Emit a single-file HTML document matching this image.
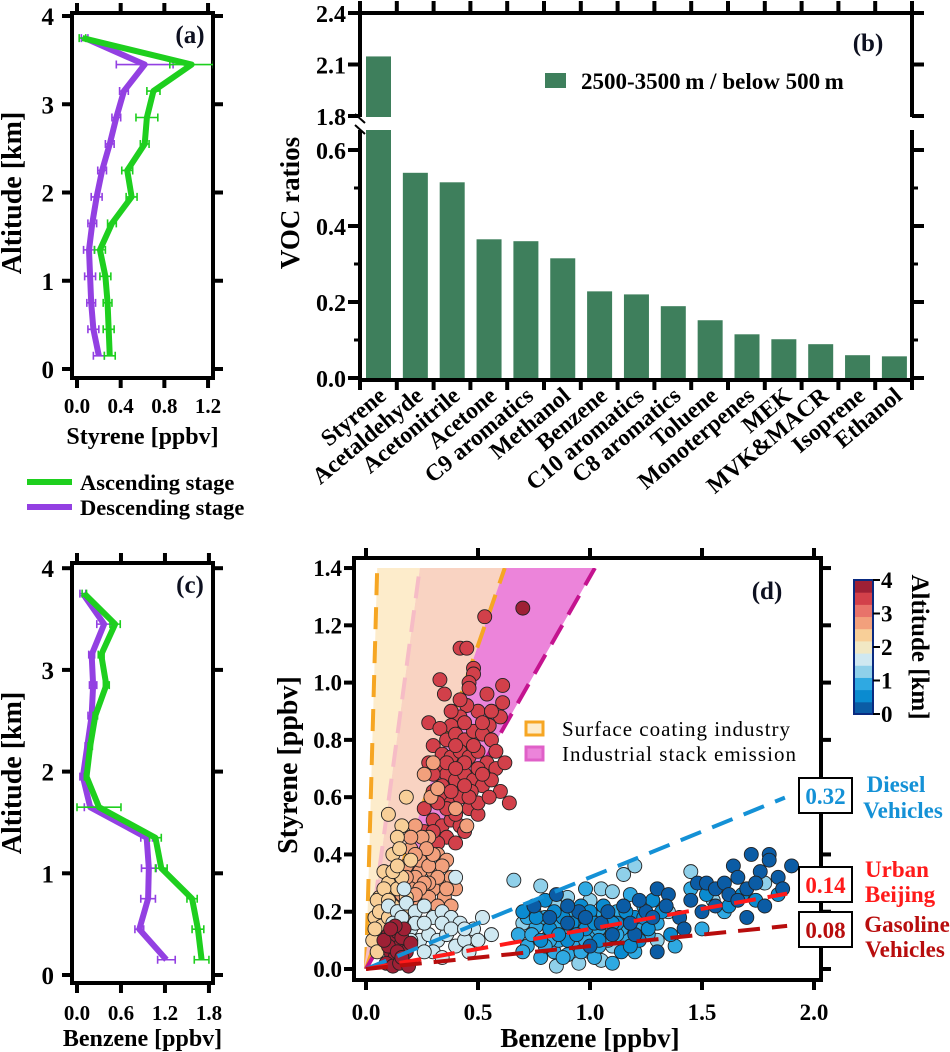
<!DOCTYPE html>
<html><head><meta charset="utf-8">
<style>
html,body{margin:0;padding:0;background:#fff;}
svg{display:block;font-family:"Liberation Serif",serif;font-weight:bold;}
</style></head>
<body>
<svg id="fig" width="950" height="1052" viewBox="0 0 950 1052" xmlns="http://www.w3.org/2000/svg"></svg>
<script>
// ---------- data ----------
const altitudes=[0.15,0.45,0.75,1.05,1.35,1.65,1.95,2.25,2.55,2.85,3.15,3.45,3.75];
const styAsc=[0.30,0.29,0.28,0.26,0.21,0.32,0.50,0.46,0.62,0.64,0.70,1.05,0.05];
const styAscErr=[0.05,0.05,0.04,0.05,0.05,0.04,0.05,0.05,0.04,0.10,0.06,0.20,0.03];
const styDes=[0.20,0.15,0.13,0.12,0.11,0.14,0.18,0.23,0.30,0.36,0.43,0.62,0.07];
const styDesErr=[0.05,0.05,0.04,0.05,0.05,0.04,0.05,0.04,0.04,0.04,0.04,0.26,0.03];
const benAsc=[1.70,1.65,1.57,1.15,1.07,0.30,0.13,0.18,0.25,0.40,0.33,0.52,0.10];
const benAscErr=[0.10,0.08,0.07,0.08,0.08,0.30,0.03,0.03,0.03,0.04,0.04,0.07,0.03];
const benDes=[1.22,0.85,0.97,0.98,0.95,0.18,0.08,0.14,0.20,0.22,0.20,0.37,0.08];
const benDesErr=[0.12,0.06,0.10,0.10,0.08,0.08,0.04,0.03,0.05,0.05,0.04,0.10,0.04];
const altTicks=[0,1,2,3,4];
const styTicks=[0,0.4,0.8,1.2];
const benTicksC=[0,0.6,1.2,1.8];

const vocNames=["Styrene","Acetaldehyde","Acetonitrile","Acetone","C9 aromatics","Methanol","Benzene","C10 aromatics","C8 aromatics","Toluene","Monoterpenes","MEK","MVK&MACR","Isoprene","Ethanol"];
const vocRatios=[2.147,0.54,0.515,0.365,0.36,0.315,0.228,0.22,0.189,0.152,0.115,0.102,0.089,0.06,0.057];
const ratioTicksLow=[0,0.2,0.4,0.6];
const ratioTicksHigh=[1.8,2.1,2.4];

const dBenzTicks=[0,0.5,1.0,1.5,2.0];
const dStyTicks=[0,0.2,0.4,0.6,0.8,1.0,1.2,1.4];
const ratioLines=[0.32,0.14,0.08];
const cbTicks=[0,1,2,3,4];
const pointsBSA=[
[0.33,1.01,3.3],[0.35,0.96,3.3],[0.42,1.12,3.3],[0.45,1.12,3.3],[0.48,1.05,3.3],[0.48,1.03,3.3],[0.53,1.23,3.3],[0.70,1.26,3.9],[0.54,0.96,3.3],[0.46,1.0,3.3],[0.46,0.98,3.3],[0.61,0.99,3.3],[0.61,0.93,3.3],[0.60,0.88,3.3],[0.55,0.85,3.3],[0.50,0.90,3.3],[0.45,0.92,3.3],[0.42,0.88,3.3],[0.38,0.85,3.3],[0.28,0.86,3.3],[0.33,0.84,3.3],[0.36,0.80,3.3],[0.40,0.82,3.3],[0.44,0.80,3.3],[0.48,0.83,3.3],[0.52,0.82,3.3],[0.56,0.80,3.3],[0.30,0.78,3.3],[0.34,0.75,3.3],[0.38,0.74,3.3],[0.42,0.76,3.3],[0.46,0.74,3.3],[0.50,0.76,3.3],[0.54,0.72,3.3],[0.58,0.70,3.3],[0.32,0.70,3.3],[0.36,0.68,3.3],[0.40,0.66,3.3],[0.44,0.68,3.3],[0.48,0.66,3.3],[0.52,0.64,3.3],[0.56,0.66,3.3],[0.60,0.62,3.3],[0.64,0.58,3.3],[0.30,0.62,3.3],[0.34,0.60,3.3],[0.38,0.58,3.3],[0.42,0.60,3.3],[0.46,0.56,3.3],[0.50,0.54,3.3],[0.26,0.56,3.3],[0.30,0.52,3.3],[0.34,0.50,3.3],[0.38,0.52,3.3],[0.42,0.50,3.3],[0.44,0.48,3.3],[0.36,0.46,3.3],[0.40,0.44,3.3],[0.32,0.44,3.3],[0.50,0.58,3.3],[0.55,0.60,3.3],[0.47,0.62,3.3],
[0.38,0.90,3.3],[0.42,0.94,3.3],[0.44,0.86,3.3],[0.40,0.78,3.3],[0.36,0.72,3.3],[0.44,0.72,3.3],[0.50,0.70,3.3],[0.40,0.70,3.3],[0.34,0.64,3.3],[0.38,0.62,3.3],[0.46,0.60,3.3],[0.52,0.68,3.3],[0.44,0.64,3.3],[0.40,0.54,3.3],[0.36,0.56,3.3],[0.32,0.58,3.3],[0.30,0.68,3.3],[0.28,0.72,3.3],[0.48,0.78,3.3],[0.52,0.86,3.3],[0.56,0.90,3.3],[0.58,0.76,3.3],[0.62,0.72,3.3],[0.26,0.48,3.3],[0.30,0.48,3.3],
[0.28,0.46,2.9],[0.32,0.40,2.9],[0.36,0.38,2.9],[0.30,0.34,2.9],[0.34,0.30,2.9],[0.38,0.32,2.9],[0.26,0.38,2.9],[0.35,0.25,2.9],[0.40,0.28,2.9],[0.30,0.28,2.9],[0.45,0.50,2.9],[0.40,0.56,2.9],[0.36,0.20,2.9],[0.38,0.22,2.9],
[0.34,0.36,2.9],[0.32,0.32,2.9],[0.36,0.28,2.9],[0.28,0.30,2.9],[0.24,0.34,2.9],[0.30,0.22,2.9],[0.33,0.18,2.9],[0.26,0.26,2.9],
[0.22,0.50,2.6],[0.25,0.46,2.6],[0.20,0.42,2.6],[0.24,0.38,2.6],[0.28,0.36,2.6],[0.22,0.32,2.6],[0.26,0.30,2.6],[0.18,0.36,2.6],[0.30,0.40,2.6],[0.20,0.28,2.6],[0.28,0.25,2.6],[0.24,0.22,2.6],[0.32,0.22,2.6],[0.29,0.60,2.6],[0.32,0.63,2.6],[0.26,0.68,2.6],[0.30,0.72,2.6],[0.27,0.42,2.6],
[0.20,0.46,2.6],[0.22,0.40,2.6],[0.18,0.32,2.6],[0.24,0.28,2.6],[0.16,0.26,2.6],[0.22,0.26,2.6],
[0.10,0.54,2.2],[0.18,0.60,2.2],[0.16,0.50,2.2],[0.14,0.46,2.2],[0.12,0.40,2.2],[0.08,0.34,2.2],[0.10,0.30,2.2],[0.06,0.25,2.2],[0.08,0.20,2.2],[0.05,0.24,2.2],[0.14,0.28,2.2],[0.20,0.38,2.2],[0.16,0.32,2.2],[0.04,0.18,2.2],[0.07,0.15,2.2],[0.12,0.22,2.2],[0.03,0.10,2.2],[0.05,0.06,2.2],[0.15,0.42,2.2],[0.18,0.25,2.2],
[0.08,0.28,2.2],[0.12,0.34,2.2],[0.10,0.24,2.2],[0.06,0.20,2.2],[0.14,0.36,2.2],[0.04,0.14,2.2],[0.10,0.18,2.2],[0.18,0.20,2.2],
[0.10,0.22,1.8],[0.14,0.20,1.8],[0.18,0.23,1.8],[0.22,0.20,1.8],[0.26,0.22,1.8],[0.30,0.18,1.8],[0.34,0.20,1.8],[0.38,0.18,1.8],[0.42,0.16,1.8],[0.20,0.14,1.8],[0.24,0.10,1.8],[0.28,0.12,1.8],[0.32,0.10,1.8],[0.36,0.12,1.8],[0.40,0.08,1.8],[0.44,0.10,1.8],[0.48,0.14,1.8],[0.52,0.18,1.8],[0.30,0.06,1.8],[0.34,0.04,1.8],[0.22,0.16,1.8],[0.12,0.16,1.8],[0.40,0.32,1.8],[0.17,0.28,1.8],[0.46,0.06,1.8],[0.56,0.12,1.8],
[0.16,0.18,1.8],[0.26,0.16,1.8],[0.34,0.16,1.8],[0.38,0.14,1.8],[0.44,0.14,1.8],[0.26,0.06,1.8],[0.20,0.10,1.8],[0.50,0.10,1.8],
[0.66,0.31,1.4],[0.78,0.29,1.4],[0.70,0.16,1.4],[0.75,0.20,1.4],[0.85,0.22,1.4],[0.90,0.25,1.4],[1.00,0.24,1.4],[1.05,0.28,1.4],[1.10,0.27,1.4],[1.15,0.33,1.4],[1.20,0.36,1.4],[0.82,0.12,1.4],[0.92,0.10,1.4],[1.00,0.06,1.4],[1.10,0.08,1.4],[1.20,0.14,1.4],[1.30,0.10,1.4],[1.45,0.34,1.4],[1.55,0.24,1.4],[1.35,0.20,1.4],[0.95,0.02,1.4],[0.85,0.01,1.4],[1.05,0.03,1.4],[1.78,0.30,1.4],
[0.68,0.12,1.0],[0.72,0.08,1.0],[0.76,0.15,1.0],[0.80,0.18,1.0],[0.84,0.06,1.0],[0.88,0.14,1.0],[0.92,0.20,1.0],[0.96,0.16,1.0],[1.00,0.12,1.0],[1.04,0.18,1.0],[1.08,0.14,1.0],[1.12,0.20,1.0],[1.16,0.10,1.0],[1.20,0.06,1.0],[1.24,0.22,1.0],[0.78,0.04,1.0],[0.86,0.10,1.0],[0.94,0.08,1.0],[1.02,0.04,1.0],[1.10,0.02,1.0],[1.30,0.16,1.0],[1.38,0.08,1.0],[1.45,0.28,1.0],[1.50,0.14,1.0],[1.60,0.20,1.0],[1.18,0.26,1.0],[0.98,0.28,1.0],[0.90,0.05,1.0],
[0.74,0.12,1.0],[0.82,0.10,1.0],[0.86,0.16,1.0],[0.90,0.20,1.0],[0.94,0.14,1.0],[1.00,0.18,1.0],[1.04,0.14,1.0],[1.08,0.10,1.0],[1.14,0.14,1.0],[1.18,0.18,1.0],[1.22,0.16,1.0],[1.26,0.12,1.0],[0.80,0.08,1.0],[0.88,0.04,1.0],[0.96,0.06,1.0],[1.04,0.08,1.0],[1.12,0.12,1.0],[0.72,0.18,1.0],[0.70,0.06,1.0],[0.98,0.10,1.0],
[0.70,0.20,0.6],[0.80,0.24,0.6],[0.88,0.18,0.6],[0.96,0.22,0.6],[1.04,0.10,0.6],[1.12,0.16,0.6],[1.20,0.18,0.6],[1.28,0.24,0.6],[1.36,0.12,0.6],[0.82,0.14,0.6],[0.90,0.10,0.6],[0.98,0.14,0.6],[1.06,0.22,0.6],[1.14,0.06,0.6],[1.22,0.10,0.6],[1.52,0.26,0.6],[1.62,0.22,0.6],[1.68,0.26,0.6],[1.74,0.24,0.6],[1.84,0.26,0.6],
[0.76,0.18,0.6],[0.84,0.20,0.6],[0.92,0.16,0.6],[1.00,0.20,0.6],[1.08,0.18,0.6],[1.16,0.20,0.6],[1.24,0.18,0.6],[1.32,0.20,0.6],[0.86,0.12,0.6],[0.94,0.12,0.6],[1.02,0.16,0.6],[1.10,0.16,0.6],[1.18,0.08,0.6],[1.26,0.14,0.6],[0.78,0.10,0.6],
[0.75,0.22,0.2],[0.85,0.26,0.2],[0.95,0.20,0.2],[1.05,0.16,0.2],[1.15,0.22,0.2],[1.25,0.20,0.2],[1.30,0.28,0.2],[1.35,0.26,0.2],[1.40,0.18,0.2],[1.42,0.14,0.2],[1.48,0.30,0.2],[1.52,0.30,0.2],[1.56,0.28,0.2],[1.60,0.30,0.2],[1.64,0.36,0.2],[1.66,0.32,0.2],[1.70,0.28,0.2],[1.72,0.40,0.2],[1.76,0.34,0.2],[1.80,0.40,0.2],[1.80,0.38,0.2],[1.84,0.32,0.2],[1.90,0.36,0.2],[1.70,0.18,0.2],[1.50,0.20,0.2],[1.62,0.26,0.2],[1.78,0.22,0.2],[1.45,0.24,0.2],[1.20,0.12,0.2],[1.00,0.08,0.2],[0.90,0.16,0.2],[1.10,0.12,0.2],[1.30,0.06,0.2],
[0.82,0.18,0.2],[0.90,0.22,0.2],[0.98,0.18,0.2],[1.08,0.20,0.2],[1.18,0.16,0.2],[1.28,0.18,0.2],[1.34,0.22,0.2],[1.22,0.24,0.2],[1.56,0.22,0.2],[1.66,0.24,0.2],[1.74,0.30,0.2],[1.86,0.28,0.2],
[0.10,0.12,3.8],[0.12,0.10,3.8],[0.14,0.13,3.8],[0.15,0.08,3.8],[0.11,0.06,3.8],[0.13,0.04,3.8],[0.16,0.11,3.8],[0.18,0.06,3.8],[0.09,0.02,3.8],[0.12,0.01,3.8],[0.15,0.02,3.8],[0.19,0.01,3.8],[0.17,0.14,3.8],[0.10,0.08,3.8],[0.14,0.06,3.8],[0.08,0.10,3.8],[0.20,0.09,3.8],[0.13,0.15,3.8],[0.16,0.04,3.8],[0.11,0.14,3.8]
];
const cmapColors=["#0b5ca5","#0a8bd0","#2fa9e2","#8fd0ea","#cfe8f1","#f1e8c4","#f8cf98","#f2a07c","#e8736a","#d2404a","#9e2035"];

// ---------- helpers ----------
const NS="http://www.w3.org/2000/svg";
const svg=document.getElementById('fig');
function mk(tag,attrs,parent){const e=document.createElementNS(NS,tag);for(const k in attrs)e.setAttribute(k,attrs[k]);(parent||svg).appendChild(e);return e;}
function txt(s,x,y,size,anchor,extra){const t=mk('text',Object.assign({x:x,y:y,'font-size':size,'text-anchor':anchor||'middle'},extra||{}));t.textContent=s;return t;}
const GREEN="#1ecf1e",PURPLE="#9340e2";

// ---------- profile panels ----------
function profile(key,L,R,T,B,xv,ya,xTicks,asc,ascE,des,desE,xTitle,tag,tickLabelY,titleY,yTitleY){
  const fr=mk('rect',{x:L,y:T,width:R-L,height:B-T,fill:'none',stroke:'#000','stroke-width':4});
  
  
  altTicks.forEach(a=>{
    const y=ya(a);
    mk('line',{x1:L-10,x2:L,y1:y,y2:y,stroke:'#000','stroke-width':4});
    mk('line',{x1:R,x2:R+10,y1:y,y2:y,stroke:'#000','stroke-width':4});
    const t=txt(String(a),L-18,y+9,25,'end');
    
    
  });
  xTicks.forEach(v=>{
    const x=xv(v);
    mk('line',{x1:x,x2:x,y1:B,y2:B+10,stroke:'#000','stroke-width':4});
    mk('line',{x1:x,x2:x,y1:T-10,y2:T,stroke:'#000','stroke-width':4});
    const t=txt(v.toFixed(1),x,tickLabelY,21,'middle');
    
    
  });
  const xt=txt(xTitle,(L+R)/2,titleY,24,'middle');
  
  
  const yt=txt('Altitude [km]',0,0,28,'middle',{transform:`translate(21,${yTitleY}) rotate(-90)`});
  
  
  const cp=mk('clipPath',{id:'clip-'+key});
  mk('rect',{x:L,y:T,width:R-L,height:B-T},cp);
  [[des,desE,PURPLE,'descending'],[asc,ascE,GREEN,'ascending']].forEach(([vals,errs,col,nm])=>{
    const g=mk('g',{'clip-path':`url(#clip-${key})`});
    
    
    vals.forEach((v,i)=>{
      const y=ya(altitudes[i]),x1=xv(v-errs[i]),x2=xv(v+errs[i]);
      mk('path',{d:`M${x1},${y}H${x2}M${x1},${y-4}V${y+4}M${x2},${y-4}V${y+4}`,stroke:col,'stroke-width':1.6,fill:'none'},g);
    });
    const pl=mk('polyline',{points:vals.map((v,i)=>xv(v)+','+ya(altitudes[i])).join(' '),fill:'none',stroke:col,'stroke-width':6,'stroke-linejoin':'round'},g);
    
    
  });
  const lab=txt(tag,190,T+30,25,'middle',{fill:'#0d1020'});
  
  
}
profile('panel-a',72,213,13,378,v=>77+v*109.2,a=>369-a*88.25,styTicks,styAsc,styAscErr,styDes,styDesErr,'Styrene [ppbv]','(a)',413,444,193);
profile('panel-c',72,213,563,983,v=>77+v*73.3,a=>975-a*101.7,benTicksC,benAsc,benAscErr,benDes,benDesErr,'Benzene [ppbv]','(c)',1020,1046,773);

// legend for a/c
[[GREEN,'Ascending stage',482,'legend-ascending'],[PURPLE,'Descending stage',507,'legend-descending']].forEach(([c,s,y,n])=>{
  const l=mk('line',{x1:27,x2:72,y1:y,y2:y,stroke:c,'stroke-width':6});
  
  
  const t=txt(s,80,y+8,22.5,'start');
  
  
});

// ---------- panel b ----------
(function(){
  const L=360,R=912,T=13,brkTop=117,brkBot=130,B=380;
  const yLow=v=>378-v*380, yHigh=v=>116-(v-1.8)*(103/0.6);
  const bx=i=>378.5+i*36.85;
  vocRatios.forEach((v,i)=>{
    const x=bx(i)-12.5;
    if(v>0.65){
      const b1=mk('rect',{x:x,y:brkBot,width:25,height:378-brkBot,fill:'#3e7f5c'});
      
      
      const b2=mk('rect',{x:x,y:yHigh(v),width:25,height:brkTop-yHigh(v),fill:'#3e7f5c'});
      
      
    } else {
      const b=mk('rect',{x:x,y:yLow(v),width:25,height:378-yLow(v),fill:'#3e7f5c'});
      
      
    }
    const t=txt(vocNames[i],0,0,23.5,'end',{transform:`translate(${bx(i)+9},${398}) rotate(-40)`});
    
    
  });
  const ax=mk('path',{d:`M${L},${brkTop}V${T}H${R}V${brkTop}M${R},${brkBot}V${B}H${L}V${brkBot}`,fill:'none',stroke:'#000','stroke-width':4});
  
  
  mk('path',{d:`M${L-5},${brkTop-3}L${L+5},${brkTop+6}M${L-5},${brkBot-5}L${L+5},${brkBot+4}`,stroke:'#000','stroke-width':2});
  for(let i=0;i<=15;i++){const x=360+i*36.8;mk('line',{x1:x,x2:x,y1:B,y2:B+10,stroke:'#000','stroke-width':4});mk('line',{x1:x,x2:x,y1:T-12,y2:T,stroke:'#000','stroke-width':4});}
  ratioTicksLow.forEach(v=>{const y=yLow(v);mk('line',{x1:L-12,x2:L,y1:y,y2:y,stroke:'#000','stroke-width':4});mk('line',{x1:R,x2:R+12,y1:y,y2:y,stroke:'#000','stroke-width':4});
    const t=txt(v.toFixed(1),L-14,y+9,24,'end');});
  [0.1,0.3,0.5].forEach(v=>{const y=yLow(v);mk('line',{x1:L-6,x2:L,y1:y,y2:y,stroke:'#000','stroke-width':3});mk('line',{x1:R,x2:R+6,y1:y,y2:y,stroke:'#000','stroke-width':3});});
  ratioTicksHigh.forEach(v=>{const y=yHigh(v);mk('line',{x1:L-12,x2:L,y1:y,y2:y,stroke:'#000','stroke-width':4});mk('line',{x1:R,x2:R+12,y1:y,y2:y,stroke:'#000','stroke-width':4});
    const t=txt(v.toFixed(1),L-14,y+9,24,'end');});
  const yt=txt('VOC ratios',0,0,27,'middle',{transform:'translate(299,203) rotate(-90)'});
  
  
  const ls=mk('rect',{x:545,y:73,width:21,height:15,fill:'#3e7f5c'});
  
  
  const lt=txt('2500-3500\u2009m / below 500\u2009m',581,89,23,'start');
  
  
  const pl=txt('(b)',868,51,25,'middle',{fill:'#0d1020'});
  
  
})();

// ---------- panel d ----------
(function(){
  const L=354,R=821,T=558,B=980;
  const xb=b=>366+b*224, ys=s=>969-s*286.4;
  const cp=mk('clipPath',{id:'clip-d'});
  mk('rect',{x:L+2,y:ys(1.4),width:R-L-4,height:B-ys(1.4)-2},cp);
  const g=mk('g',{'clip-path':'url(#clip-d)'});
  const sl=[28,5.83,2.26,1.37];
  const poly=(a,b,c)=>mk('polygon',{points:`${xb(0)},${ys(0)} ${xb(1.4/a)},${ys(1.4)} ${xb(1.4/b)},${ys(1.4)}`,fill:c,stroke:'none'},g);
  const r1=poly(sl[0],sl[1],'#fdeccb');  
  const r2=poly(sl[1],sl[2],'#f9d3c2');  
  const r3=poly(sl[2],sl[3],'#ec84da');  
  [[sl[0],'#f6a623'],[sl[1],'#f6bcc6'],[sl[2],'#f6a623'],[sl[3],'#c4138f']].forEach(([s,c])=>{
    const l=mk('line',{x1:xb(0),y1:ys(0),x2:xb(1.4/s),y2:ys(1.4),stroke:c,'stroke-width':4,'stroke-dasharray':'22 12'},g);
    
    
  });
  const cm=a=>cmapColors[Math.min(cmapColors.length-1,Math.floor(a/4*cmapColors.length))];
  pointsBSA.forEach(p=>{
    const c=mk('circle',{cx:xb(p[0]),cy:ys(p[1]),r:7,fill:cm(p[2]),stroke:'#222','stroke-width':0.9},g);
    
    
  });
  [[ratioLines[0],'#1491d6',1.87],[ratioLines[1],'#ff1a1a',1.88],[ratioLines[2],'#b80d0d',1.88]].forEach(([s,c,xe])=>{
    const l=mk('line',{x1:xb(0),y1:ys(0),x2:xb(xe),y2:ys(s*xe),stroke:c,'stroke-width':4,'stroke-dasharray':'22 12'});
    
    
  });
  const fr=mk('rect',{x:L,y:T,width:R-L,height:B-T,fill:'none',stroke:'#000','stroke-width':4});
  
  
  dBenzTicks.forEach(v=>{const x=xb(v);mk('line',{x1:x,x2:x,y1:B,y2:B+10,stroke:'#000','stroke-width':4});mk('line',{x1:x,x2:x,y1:T-10,y2:T,stroke:'#000','stroke-width':4});
    const t=txt(v.toFixed(1),x,1020,23,'middle');});
  dStyTicks.forEach(v=>{const y=ys(v);mk('line',{x1:L-10,x2:L,y1:y,y2:y,stroke:'#000','stroke-width':4});mk('line',{x1:R,x2:R+10,y1:y,y2:y,stroke:'#000','stroke-width':4});
    const t=txt(v.toFixed(1),L-12,y+8,23,'end');});
  const xt=txt('Benzene [ppbv]',590,1047,27,'middle');
  
  
  const yt=txt('Styrene [ppbv]',0,0,28,'middle',{transform:'translate(297,765) rotate(-90)'});
  
  
  const pl=txt('(d)',767,599,25,'middle',{fill:'#0d1020'});
  
  
  const s1=mk('rect',{x:526,y:722,width:17,height:13,fill:'#fdeccb',stroke:'#f6a623','stroke-width':3});
   
  const t1=txt('Surface coating industry',562,736,21,'start',{'font-weight':'normal',textLength:228});
   
  const s2=mk('rect',{x:526,y:747,width:17,height:13,fill:'#ec84da',stroke:'#e060c8','stroke-width':3});
   
  const t2=txt('Industrial stack emission',562,761,21,'start',{'font-weight':'normal',textLength:234});
   
  [[ratioLines[0],778,'#1491d6'],[ratioLines[1],867,'#ff1a1a'],[ratioLines[2],912,'#b80d0d']].forEach(([v,y,c])=>{
    const b=mk('rect',{x:799,y:y,width:53,height:35,fill:'#fff',stroke:'#000','stroke-width':2});
     
    const t=txt(v.toFixed(2),825.5,y+26,23,'middle',{fill:c});
     
  });
  [['Diesel',896,792,'#1491d6'],['Vehicles',903,818,'#1491d6'],['Urban',897,877,'#ff1a1a'],['Beijing',900,902,'#ff1a1a'],['Gasoline',907,932,'#b80d0d'],['Vehicles',905,957,'#b80d0d']].forEach(([s,x,y,c])=>{
    const t=txt(s,x,y,23,'middle',{fill:c});
     
  });
  const cbT=580,cbB=714,n=cmapColors.length,h=(cbB-cbT)/n;
  cmapColors.forEach((c,i)=>{
    const r=mk('rect',{x:854,y:cbB-(i+1)*h,width:19,height:h+0.5,fill:c});
     
  });
  const cbf=mk('rect',{x:854,y:cbT,width:19,height:cbB-cbT,fill:'none',stroke:'#0a2a80','stroke-width':2});
   
  cbTicks.forEach(v=>{const y=cbB-v/4*(cbB-cbT);mk('line',{x1:873,x2:880,y1:y,y2:y,stroke:'#000','stroke-width':2});
    const t=txt(String(v),881,y+8,23,'start');});
  const ct=txt('Altitude [km]',0,0,25,'middle',{transform:'translate(912,647) rotate(90)'});
   
})();
</script>
</body></html>
